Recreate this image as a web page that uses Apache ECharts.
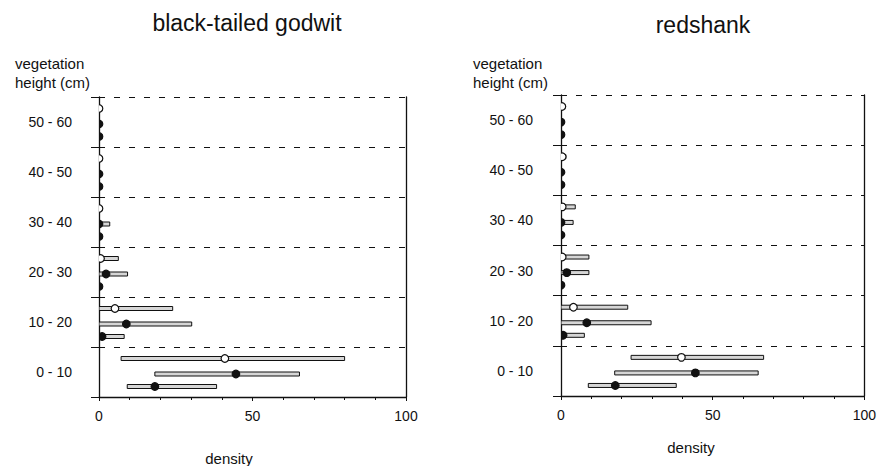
<!DOCTYPE html>
<html>
<head>
<meta charset="utf-8">
<script src="https://cdn.jsdelivr.net/npm/echarts@6/dist/echarts.min.js"></script>
<style>
html,body{margin:0;padding:0;background:#fff;}
#chart{width:879px;height:466px;}
</style>
</head>
<body>
<div id="chart"></div>
<script>
// ---- data ----
const categories = ['0 - 10', '10 - 20', '20 - 30', '30 - 40', '40 - 50', '50 - 60'];
const xTicks = [0, 50, 100];
const panelTitles = ['black-tailed godwit', 'redshank'];

// black-tailed godwit: open circle row (top), filled row (middle), filled row (bottom)
const godwitOpenMean = [41, 5.2, 0.5, 0, 0, 0];
const godwitOpenLow  = [7.2, 0, 0, 0, 0, 0];
const godwitOpenHigh = [80, 24, 6.3, 0, 0, 0];
const godwitMidMean  = [44.6, 8.9, 2.3, 0, 0, 0];
const godwitMidLow   = [18.2, 0, 0, 0, 0, 0];
const godwitMidHigh  = [65.3, 30.2, 9.3, 3.5, 0, 0];
const godwitLowMean  = [18.2, 1, 0, 0, 0, 0];
const godwitLowLow   = [9.2, 0, 0, 0, 0, 0];
const godwitLowHigh  = [38.3, 8.2, 0, 0, 0, 0];

// redshank
const redshankOpenMean = [39.7, 4.1, 0.4, 0.4, 0.4, 0.3];
const redshankOpenLow  = [23.1, 0, 0, 0, 0, 0];
const redshankOpenHigh = [66.8, 22, 9.2, 4.7, 1.6, 0];
const redshankMidMean  = [44.3, 8.5, 1.9, 0, 0, 0];
const redshankMidLow   = [17.7, 0, 0, 0, 0, 0];
const redshankMidHigh  = [65.0, 29.7, 9.2, 4.0, 0, 0];
const redshankLowMean  = [17.9, 0.7, 0, 0, 0, 0];
const redshankLowLow   = [9.0, 0, 0, 0, 0, 0];
const redshankLowHigh  = [38.0, 7.7, 0, 0, 0, 0];

// ---- layout / style ----
const FONT = "'Liberation Sans', Arial, Helvetica, sans-serif";
const INK = '#111';
const rowOffset = { open: 7.7, mid: 4.6, low: 2.1 }; // position inside a 10-unit band

function buildData(mean, low, high) {
  return categories.map((c, i) => [i, low[i], high[i], mean[i]]);
}

function makeSeries(gridIdx, kind, mean, low, high) {
  const off = rowOffset[kind];
  const open = kind === 'open';
  return {
    type: 'custom',
    xAxisIndex: gridIdx,
    yAxisIndex: gridIdx * 3,
    silent: true,
    data: buildData(mean, low, high),
    encode: { x: [1, 2, 3] },
    renderItem: function (params, api) {
      const cat = api.value(0);
      const yv = cat * 10 + off;
      const pL = api.coord([api.value(1), yv]);
      const pH = api.coord([api.value(2), yv]);
      const pM = api.coord([api.value(3), yv]);
      const cs = params.coordSys;
      const children = [];
      if (pH[0] - pL[0] > 0.5) {
        children.push({
          type: 'rect',
          shape: { x: pL[0], y: pL[1] - 2, width: pH[0] - pL[0], height: 4 },
          style: { fill: '#d6d6d6', stroke: INK, lineWidth: 1 }
        });
      }
      children.push({
        type: 'circle',
        shape: { cx: pM[0], cy: pM[1], r: 3.8 },
        style: { fill: open ? '#fff' : INK, stroke: INK, lineWidth: 1.2 }
      });
      return {
        type: 'group',
        clipPath: { type: 'rect', shape: { x: cs.x, y: cs.y, width: cs.width, height: cs.height } },
        children: children
      };
    }
  };
}

const grids = [
  { left: 99, top: 97, width: 307, height: 300 },
  { left: 561, top: 95, width: 309, height: 301 }
];

const xAxes = grids.map((g, i) => ({
  type: 'value', gridIndex: i, min: 0, max: 100, interval: 50,
  axisLine: { show: true, lineStyle: { color: INK, width: 1.3 } },
  axisTick: { show: true, length: 4, lineStyle: { color: INK } },
  minorTick: { show: true, splitNumber: 5, length: 3, lineStyle: { color: INK } },
  splitLine: { show: false },
  axisLabel: { color: INK, fontSize: 14, fontFamily: FONT, margin: 12,
    formatter: v => (xTicks.indexOf(v) >= 0 ? String(v) : '') }
}));

const yAxes = [];
grids.forEach((g, i) => {
  yAxes.push({
    type: 'value', gridIndex: i, min: 0, max: 60, interval: 10, position: 'left',
    axisLine: { show: true, onZero: false, lineStyle: { color: INK, width: 1.3 } },
    axisTick: { show: true, length: 8, lineStyle: { color: INK } },
    axisLabel: { show: false },
    splitLine: { show: true, lineStyle: { color: INK, width: 1, type: [6, 9] } }
  });
  yAxes.push({
    type: 'value', gridIndex: i, min: 0, max: 60, interval: 5, position: 'left', offset: 0,
    axisLine: { show: false }, axisTick: { show: false }, splitLine: { show: false },
    axisLabel: {
      color: INK, fontSize: 14, fontFamily: FONT, margin: i === 0 ? 27 : 28,
      padding: [8, 0, 0, 0],
      formatter: v => (v % 10 === 5 ? categories[(v - 5) / 10] : '')
    }
  });
  yAxes.push({
    type: 'value', gridIndex: i, min: 0, max: 60, position: 'right', offset: 0,
    axisLine: { show: true, onZero: false, lineStyle: { color: INK, width: 1.3 } },
    axisTick: { show: false }, axisLabel: { show: false }, splitLine: { show: false }
  });
});

const series = [
  makeSeries(0, 'open', godwitOpenMean, godwitOpenLow, godwitOpenHigh),
  makeSeries(0, 'mid', godwitMidMean, godwitMidLow, godwitMidHigh),
  makeSeries(0, 'low', godwitLowMean, godwitLowLow, godwitLowHigh),
  makeSeries(1, 'open', redshankOpenMean, redshankOpenLow, redshankOpenHigh),
  makeSeries(1, 'mid', redshankMidMean, redshankMidLow, redshankMidHigh),
  makeSeries(1, 'low', redshankLowMean, redshankLowLow, redshankLowHigh)
];

function txt(x, y, text, size, align) {
  return {
    type: 'text', x: x, y: y, silent: true,
    style: {
      text: text, fill: INK, fontSize: size, fontFamily: FONT,
      textAlign: align, align: align,
      textVerticalAlign: 'middle', verticalAlign: 'middle',
      lineHeight: 19
    }
  };
}

const graphics = [
  txt(247, 23, panelTitles[0], 23, 'center'),
  txt(703, 25, panelTitles[1], 23, 'center'),
  txt(15, 73, 'vegetation\nheight (cm)', 15, 'left'),
  txt(473, 73, 'vegetation\nheight (cm)', 15, 'left'),
  txt(229, 458, 'density', 15, 'center'),
  txt(691, 447, 'density', 15, 'center')
];

const chart = echarts.init(document.getElementById('chart'), null, { renderer: 'svg' });
chart.setOption({
  animation: false,
  backgroundColor: '#fff',
  grid: grids,
  xAxis: xAxes,
  yAxis: yAxes,
  series: series,
  graphic: graphics
});
</script>
</body>
</html>
